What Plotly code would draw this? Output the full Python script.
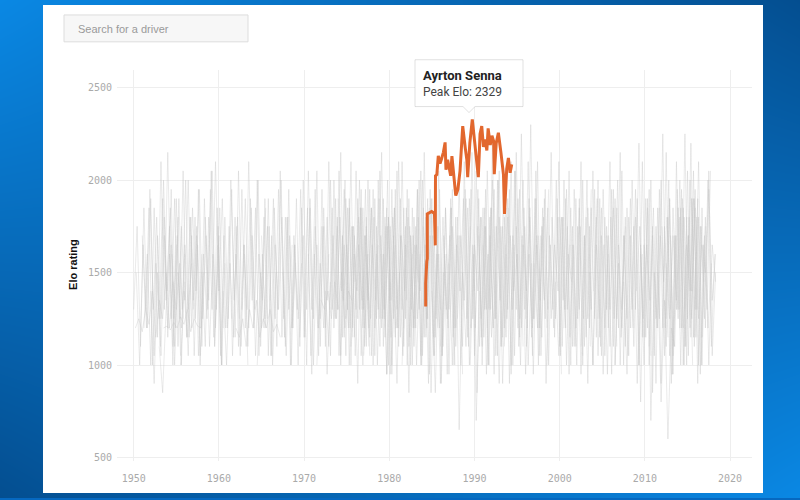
import plotly.graph_objects as go

W, H = 800, 500

# ---------------- data ----------------
x_ticks = [1950, 1960, 1970, 1980, 1990, 2000, 2010, 2020]
y_ticks = [500, 1000, 1500, 2000, 2500]

senna_year = [1984.27, 1984.27, 1984.40, 1984.46, 1984.46, 1984.97, 1985.30, 1985.40, 1985.42,
              1985.58, 1985.75, 1985.95, 1986.10, 1986.35, 1986.55, 1986.65, 1986.85, 1987.20,
              1987.35, 1987.60, 1987.80, 1988.05, 1988.30, 1988.50, 1988.62, 1988.90, 1989.10,
              1989.20, 1989.45, 1989.74, 1990.05, 1990.25, 1990.45, 1990.65, 1990.85, 1991.05,
              1991.25, 1991.45, 1991.60, 1991.85, 1992.05, 1992.25, 1992.32, 1992.55, 1992.80,
              1993.10, 1993.30, 1993.40, 1993.52, 1993.78, 1993.98, 1994.18, 1994.37]
senna_elo = [1316, 1441, 1560, 1575, 1817, 1830, 1820, 1647, 2023,
             2030, 2131, 2090, 2110, 2150, 2204, 2056, 2110, 2023,
             2130, 2023, 1916, 1950, 2050, 2203, 2292, 2180, 2110,
             2016, 2200, 2328, 2190, 2110, 2016, 2250, 2292, 2180,
             2220, 2160, 2280, 2190, 2240, 2210, 2032, 2200, 2256,
             2150, 2080, 2030, 1817, 2060, 2120, 2040, 2085]

GRAY_STEP = 0.4

gray_1950s = [
    (1950.0, [1300, 1750, 1100, 1850, 1200, 1900, 1050, 1700, 1250, 1800, 1150, 1650, 1000, 1500, 1200, 1600]),
    (1950.3, [1500, 1000, 1650, 1200, 1950, 1300, 1800, 1100, 2000, 1400, 1850, 1250, 1700, 1050]),
    (1951.2, [1200, 1600, 1000, 1850, 1150, 2100, 1300, 2150, 1250, 1900, 1100, 1750, 1350, 2000, 1200, 1800, 1050, 1600]),
    (1952.0, [1400, 900, 1500, 1050, 1700, 1200, 1950, 1100, 1800, 1000, 1650, 1300, 1550]),
    (1953.0, [1100, 850, 1300, 1600, 1000, 1900, 1250, 2050, 1150, 1800, 1350, 1700, 1050, 1500]),
    (1954.5, [1600, 1200, 1900, 1300, 2000, 1150, 1850, 1400, 1950, 1250, 1700, 1100, 1600, 1300, 1850, 1200]),
    (1955.5, [1000, 1400, 1150, 1800, 1050, 1650, 1200, 1900, 1300, 2050, 1100, 1750, 1000, 1550]),
    (1957.0, [1300, 1750, 1000, 1600, 1250, 1950, 1150, 1850, 1050, 1700, 1200, 2000, 1350, 1800, 1100, 1650, 1000]),
    (1958.0, [1500, 1100, 1800, 1300, 2100, 1400, 1900, 1200, 1750, 1050, 1600, 1250]),
    (1950.2, [1200, 1250, 1180, 1300, 1220, 1400, 1150, 1350, 1250, 1500, 1200, 1450, 1300, 1550, 1250]),
    (1953.5, [1200, 1210, 1190, 1230, 1200, 1260, 1220, 1300, 1180, 1250, 1210, 1200]),
    (1951.0, [1700, 1300, 1850, 1000, 1550, 1250, 1900, 1350, 1750, 1100, 1650]),
    (1956.0, [1450, 1050, 1700, 1250, 1950, 1100, 1800, 1350, 2050, 1200, 1700, 1000]),
]

gray_1960s = [
    (1959.5, [1100, 1650, 1000, 1800, 1250, 1950, 1150, 2050, 1300, 1900, 1200, 1700, 1050, 1600, 1350, 1850]),
    (1960.5, [1400, 1000, 1550, 1150, 1750, 1050, 1650, 1300, 1900, 1200, 2000, 1100, 1800, 1250]),
    (1961.5, [1250, 1800, 1100, 1950, 1200, 2100, 1350, 1850, 1050, 1600, 1200, 1750, 1000, 1500]),
    (1963.0, [1600, 1100, 1850, 1300, 2000, 1200, 1900, 1050, 1700, 1250, 1950, 1150, 1800, 1300, 1650]),
    (1964.5, [1000, 1500, 1200, 1750, 1050, 1850, 1300, 2000, 1150, 1800, 1000, 1650, 1250, 1550]),
    (1966.0, [1350, 1900, 1100, 2050, 1250, 1800, 1000, 1700, 1300, 1950, 1150, 1850, 1050, 1600, 1200]),
    (1967.5, [1500, 1050, 1700, 1200, 1900, 1100, 2000, 1300, 1850, 1000, 1650, 1250, 1750, 950, 1450]),
    (1968.5, [1200, 1650, 1000, 1850, 1150, 2050, 1300, 1950, 1050, 1750, 1200, 1600]),
    (1962.0, [1200, 1150, 1250, 1100, 1300, 1200, 1350, 1150, 1250, 1200, 1300, 1180, 1220, 1150]),
    (1965.0, [1700, 1250, 1900, 1050, 1650, 1300, 1800, 1100, 1950, 1200, 1550]),
]

gray_1970s = [
    (1969.5, [1150, 1700, 1000, 1900, 1250, 2050, 1100, 1850, 1350, 2000, 1200, 1750, 1050, 1650, 1300]),
    (1970.5, [1600, 950, 1750, 1200, 1950, 1100, 2100, 1300, 1900, 1050, 1700, 1250, 1850, 1150]),
    (1971.5, [1000, 1550, 1200, 1800, 1050, 2000, 1300, 2150, 1150, 1850, 1000, 1700, 1250, 1950, 1100, 1600]),
    (1972.5, [1400, 1100, 1850, 1250, 2050, 1150, 1900, 1000, 1750, 1300, 2000, 1200, 1800, 1050]),
    (1973.5, [1250, 1800, 1000, 1950, 1300, 2100, 1150, 1900, 1050, 1700, 1350, 1850, 1200, 1650]),
    (1974.5, [1700, 1050, 1900, 1200, 2050, 1300, 1850, 1100, 1950, 1000, 1750, 1250, 1600, 950, 1450]),
    (1975.5, [1100, 1600, 900, 1850, 1200, 2000, 1050, 1900, 1300, 2150, 1150, 1800, 1000, 1650]),
    (1976.5, [1500, 1000, 1750, 1150, 1950, 1250, 2050, 1100, 1850, 950, 1700, 1300, 1900, 1200]),
    (1977.5, [1300, 1850, 1050, 2000, 1200, 1800, 1000, 1950, 1150, 2100, 1300, 1750, 1100, 1600]),
    (1978.5, [1600, 1100, 1900, 950, 1750, 1250, 2050, 1150, 1850, 1000, 1700, 1200, 1950, 1050, 1550]),
    (1972.0, [1350, 1300, 1400, 1250, 1450, 1300, 1500, 1200, 1400, 1350]),
    (1974.0, [1900, 1400, 2000, 1200, 1750, 1050, 1650, 1350, 1950, 1100]),
    (1977.0, [1050, 1500, 1250, 1800, 1000, 1700, 1300, 2000, 1150, 1850, 1200]),
    (1973.0, [1300, 1700, 1250, 1800, 1350, 1650, 1200, 1750, 1400, 1850, 1300, 1600]),
    (1976.0, [1450, 1800, 1300, 1700, 1200, 1650, 1350, 1900, 1250, 1750, 1400]),
    (1979.0, [1600, 1250, 1750, 1350, 1850, 1200, 1700, 1400, 1800, 1300, 1650, 1450]),
]

gray_1980s = [
    (1979.5, [1200, 1800, 950, 1950, 1100, 2100, 1250, 1900, 1000, 1750, 1300, 2000, 1150, 1850]),
    (1980.5, [1500, 900, 1700, 1100, 1950, 1000, 1800, 1250, 2050, 1150, 1900, 850, 1650, 1200]),
    (1981.5, [1000, 1650, 850, 1850, 1200, 2000, 1050, 1800, 950, 1700, 1250, 1950, 1100, 1600]),
    (1982.5, [1700, 1100, 1950, 1000, 2150, 1250, 1900, 1050, 1750, 900, 1600, 1200, 1850, 1000]),
    (1983.0, [1250, 1800, 1000, 1650, 900, 1900, 1150, 2050, 1050, 1850, 1300, 1950, 1100, 1700, 950]),
    (1985.0, [1400, 850, 1600, 1050, 1850, 950, 1750, 1200, 2000, 1100, 1900, 1000, 1650, 700, 1400]),
    (1986.0, [1100, 1700, 950, 1900, 1200, 1800, 1000, 2100, 1150, 1950, 1050, 1750, 1250, 1850, 1000]),
    (1987.0, [1550, 1000, 1800, 650, 1500, 1100, 1900, 1250, 2050, 1100, 1850, 950, 1700, 1200]),
    (1988.5, [1300, 1950, 1100, 2150, 1200, 1900, 1000, 1750, 1300, 2000, 1050, 1800, 900, 1600]),
    (1980.0, [1350, 1800, 1200, 1500, 1050, 1850, 1150, 1700, 1000, 1600]),
    (1984.0, [1750, 1200, 1950, 1050, 1650, 900, 1500, 1250, 1850, 1000, 1700]),
    (1982.0, [1350, 1750, 1200, 1650, 1400, 1850, 1250, 1700, 1150, 1600, 1300]),
    (1985.5, [1500, 1200, 1800, 1300, 1700, 1150, 1650, 1400, 1900, 1250, 1750]),
    (1988.0, [1250, 1700, 1350, 1850, 1200, 1650, 1400, 1800, 1300, 1600, 1150, 1750]),
]

gray_1990s = [
    (1989.5, [1000, 1600, 850, 1800, 1150, 2050, 1300, 1950, 1050, 1750, 1200, 1900, 950, 1650]),
    (1990.5, [1700, 1100, 1950, 1000, 2200, 1250, 2050, 1150, 1850, 900, 1700, 1300, 1950, 1100]),
    (1991.5, [1200, 1850, 950, 2000, 1100, 1800, 1300, 2100, 1050, 1900, 1200, 1750, 1000, 1550]),
    (1992.5, [1500, 900, 1750, 1150, 1950, 1000, 2150, 1250, 2000, 1100, 1800, 950, 1650, 1200]),
    (1993.5, [1100, 1800, 1000, 2050, 1200, 2250, 1300, 2100, 1150, 1900, 1000, 1750, 1250, 1950]),
    (1995.0, [1600, 1000, 1850, 1200, 2300, 1250, 2100, 1050, 1900, 1300, 2150, 1150, 1800, 950]),
    (1996.0, [1250, 1900, 1050, 2050, 1200, 1850, 900, 1700, 1300, 2000, 1100, 1800, 1000, 1650]),
    (1997.5, [1700, 1150, 1950, 1000, 1800, 1250, 2100, 1100, 1900, 950, 1750, 1200, 1850, 1050]),
    (1998.5, [1000, 1650, 1200, 1900, 1050, 2000, 1300, 1850, 1100, 1750, 950, 1700, 1250, 1950]),
    (1990.0, [1400, 1950, 1150, 1750, 1000, 1850, 1250, 2000, 1100, 1650]),
    (1994.0, [1850, 1300, 2050, 1100, 1700, 950, 1600, 1200, 1900, 1050, 1750]),
    (1991.0, [1650, 1300, 1800, 1200, 1750, 1350, 1900, 1250, 1700, 1400, 1600]),
    (1994.5, [1300, 1750, 1150, 1650, 1400, 1850, 1250, 1700, 1350, 1800, 1200]),
    (1997.0, [1550, 1200, 1700, 1350, 1850, 1250, 1650, 1400, 1800, 1300, 1600, 1450]),
]

gray_2000s = [
    (1999.5, [1450, 1050, 1800, 1200, 2050, 1100, 1900, 1300, 2000, 1150, 1750, 1000, 1650, 1250]),
    (2000.5, [1200, 1750, 1000, 1950, 1250, 2100, 1100, 1850, 1300, 1950, 1050, 1700, 1200, 1600]),
    (2001.5, [1650, 1100, 1900, 1000, 1800, 1200, 2050, 1150, 1900, 950, 1750, 1300, 1850, 1100]),
    (2002.5, [1100, 1700, 900, 1850, 1250, 2000, 1050, 1800, 1200, 1950, 1000, 1650, 1300, 1750]),
    (2003.5, [1500, 1000, 1800, 1150, 1950, 1300, 2100, 1100, 1850, 1000, 1700, 1250, 1900, 1200]),
    (2004.5, [1250, 1850, 1050, 1700, 950, 1900, 1200, 2050, 1100, 1800, 1300, 1950, 1000, 1600]),
    (2005.5, [1700, 1100, 1950, 1250, 2150, 1000, 1850, 1200, 1750, 900, 1650, 1150, 1900, 1050]),
    (2006.5, [1000, 1550, 1200, 1800, 1050, 2000, 1300, 2200, 1150, 1900, 1000, 1750, 1250, 1850]),
    (2000.0, [1800, 1350, 1950, 1150, 1650, 1000, 1750, 1250, 2000, 1100]),
    (2004.0, [1400, 1900, 1100, 1650, 950, 1800, 1250, 2000, 1150, 1700, 1050]),
]

gray_2010s = [
    (2007.5, [1450, 950, 1700, 1100, 1900, 800, 1650, 1200, 2000, 1050, 1850, 900, 1750, 1150]),
    (2008.5, [1200, 1800, 1000, 2100, 1150, 1950, 850, 1750, 1250, 2250, 1100, 1900, 950, 1700]),
    (2009.5, [1600, 1000, 1850, 700, 1500, 1200, 2000, 1050, 1800, 900, 1700, 1250, 1950, 1100]),
    (2010.5, [1100, 1700, 900, 1950, 1200, 2150, 1050, 1850, 1300, 2000, 1000, 1800, 1200, 2050, 1150]),
    (2011.5, [1500, 800, 1350, 600, 1200, 1100, 1850, 1200, 2250, 1050, 1900, 1150, 1800, 1000, 1750]),
    (2012.5, [1250, 1900, 1050, 2100, 1200, 1850, 1000, 2000, 1150, 1800, 950, 1650, 1300, 2050]),
    (2013.0, [1700, 1100, 1950, 1000, 1800, 1250, 2200, 1100, 1900, 1000, 1700, 1200, 1550]),
    (2013.8, [1300, 1850, 1000, 2050, 1150, 1900, 900, 1750, 1250, 2000, 1100, 1600]),
    (2014.7, [1100, 1700, 1250, 1950, 1000, 1850, 1200, 2050, 1050, 1500]),
    (2015.5, [1900, 1300, 2100, 1150, 1800, 1000, 1650, 1450]),
    (2012.0, [1750, 1200, 2000, 950, 1700, 1300, 1900, 1100, 1800, 1000]),
    (2009.0, [1400, 1750, 1250, 1650, 1350, 1850, 1200, 1700, 1450, 1800, 1300]),
    (2012.5, [1550, 1250, 1700, 1350, 1800, 1200, 1650, 1400, 1900, 1300, 1750, 1450]),
    (2014.7, [1300, 1700, 1400, 1850, 1250, 1650, 1500, 1950, 1350, 1600]),
]

# ---------------- figure ----------------
PL, PR, PT, PB = 117, 752, 70, 463  # plot area in pixels
X_RANGE = [1948.04, 2022.57]
Y_RANGE = [480, 2597]


def px(x):
    return x / W


def py(y):
    return 1 - y / H


fig = go.Figure()

# background gradient (subplot xy, full page)
fig.add_trace(go.Heatmap(
    x=[0, W], y=[0, H], z=[[1, 0], [0, 1]], zsmooth="best",
    colorscale=[[0, "#044e90"], [1, "#0a88e4"]], showscale=False,
    hoverinfo="skip", xaxis="x", yaxis="y"))
# white card
fig.add_trace(go.Scatter(
    x=[43, 763, 763, 43, 43], y=[5, 5, 495, 495, 5], mode="lines",
    fill="toself", fillcolor="white", line=dict(width=0),
    hoverinfo="skip", showlegend=False, xaxis="x", yaxis="y"))

gray_color = "rgba(196,196,196,0.36)"
for group in [gray_1950s, gray_1960s, gray_1970s, gray_1980s, gray_1990s, gray_2000s, gray_2010s]:
    for start, elos in group:
        xs = [start + i * GRAY_STEP for i in range(len(elos))]
        fig.add_trace(go.Scatter(
            x=xs, y=elos, mode="lines", line=dict(color=gray_color, width=1),
            hoverinfo="skip", showlegend=False, xaxis="x2", yaxis="y2"))

fig.add_trace(go.Scatter(
    x=senna_year, y=senna_elo, mode="lines",
    line=dict(color="#e2672e", width=3), hoverinfo="skip",
    showlegend=False, xaxis="x2", yaxis="y2"))

tick_font = dict(family="DejaVu Sans Mono", size=10, color="#aaaaaa")

fig.update_layout(
    width=W, height=H,
    margin=dict(l=0, r=0, t=0, b=0),
    paper_bgcolor="#0668c0",
    plot_bgcolor="rgba(0,0,0,0)",
    showlegend=False,
    hovermode=False,
    xaxis=dict(domain=[0, 1], range=[0, W], visible=False, fixedrange=True),
    yaxis=dict(domain=[0, 1], range=[H, 0], visible=False, fixedrange=True),
    xaxis2=dict(domain=[PL / W, PR / W], range=X_RANGE, anchor="y2",
                tickvals=x_ticks, ticktext=[str(t) for t in x_ticks],
                showgrid=True, gridcolor="#eeeeee", gridwidth=1,
                zeroline=False, showline=False, ticks="",
                tickfont=tick_font, ticklabelstandoff=10),
    yaxis2=dict(domain=[1 - PB / H, 1 - PT / H], range=Y_RANGE, anchor="x2",
                tickvals=y_ticks, ticktext=[str(t) for t in y_ticks],
                showgrid=True, gridcolor="#eeeeee", gridwidth=1,
                zeroline=False, showline=False, ticks="",
                tickfont=tick_font, ticklabelstandoff=4),
)

shapes = []
# search box
shapes.append(dict(type="rect", xref="paper", yref="paper",
                   x0=px(64), x1=px(248), y0=py(15), y1=py(42),
                   fillcolor="#f7f7f7", line=dict(color="#dddddd", width=1), layer="above"))
# tooltip with pointer
tl, tr, tt, tb = 415, 523, 60, 107
tip_x, tip_y, half = 469, 113, 6
path = (f"M {px(tl)},{py(tt)} L {px(tr)},{py(tt)} L {px(tr)},{py(tb)} "
        f"L {px(tip_x + half)},{py(tb)} L {px(tip_x)},{py(tip_y)} L {px(tip_x - half)},{py(tb)} "
        f"L {px(tl)},{py(tb)} Z")
shapes.append(dict(type="path", xref="paper", yref="paper", path=path,
                   fillcolor="white", line=dict(color="rgba(0,0,0,0.12)", width=1), layer="above"))
fig.update_layout(shapes=shapes)

annotations = [
    dict(text="Search for a driver", xref="paper", yref="paper", x=px(76), y=py(29),
         xanchor="left", yanchor="middle", showarrow=False,
         font=dict(family="Liberation Sans", size=11, color="#9a9a9a")),
    dict(text="<b>Ayrton Senna</b>", xref="paper", yref="paper", x=px(421), y=py(76),
         xanchor="left", yanchor="middle", showarrow=False,
         font=dict(family="Roboto", size=13, color="#222222")),
    dict(text="Peak Elo: 2329", xref="paper", yref="paper", x=px(421), y=py(92),
         xanchor="left", yanchor="middle", showarrow=False,
         font=dict(family="Roboto", size=12, color="#444444")),
    dict(text="<b>Elo rating</b>", xref="paper", yref="paper", x=px(73), y=py(266),
         xanchor="center", yanchor="middle", showarrow=False, textangle=-90,
         font=dict(family="Liberation Sans", size=11, color="#111111")),
]
fig.update_layout(annotations=annotations)

fig.write_html("out.html")
